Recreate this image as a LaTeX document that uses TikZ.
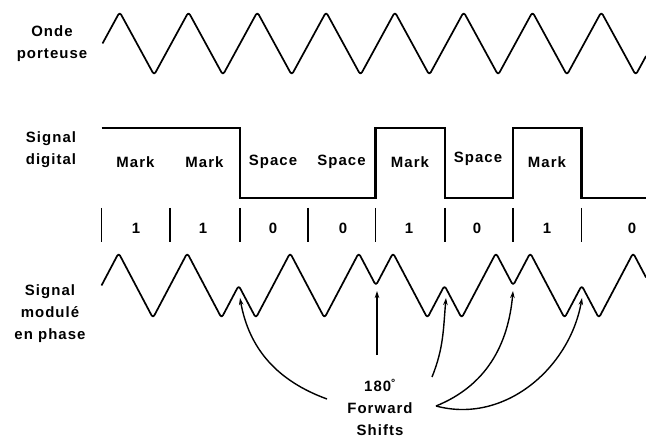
\documentclass[tikz,border=0pt]{standalone}
\usepackage{fontspec}
\newfontfamily\lblfont{Liberation Sans}[LetterSpace=7]
\usetikzlibrary{arrows.meta}
\begin{document}
\begin{tikzpicture}[x=1bp,y=-1bp,
  lbl/.style={font=\lblfont\bfseries\fontsize{15}{22}\selectfont, align=center, inner sep=0pt},
  wave/.style={line width=1.7bp, rounded corners=3bp, line join=round},
  digit/.style={line width=2.4bp, line join=miter},
  tick/.style={line width=1.2bp},
  shiftarrow/.style={line width=1.4bp, -{Stealth[length=7bp,width=4.5bp]}}]
\useasboundingbox (0,0) rectangle (646,437);
% labels at the left
\node[lbl] (onde) at (52,44) {Onde\\porteuse};
\node[lbl] (digl) at (51,150) {Signal\\digital};
\node[lbl] (modl) at (50,314) {Signal\\modulé\\en phase};
% carrier
\draw[wave] (102.5,43.5) -- (119.7,12) -- (154.1,75) -- (188.5,12) -- (222.9,75)
  -- (257.3,12) -- (291.7,75) -- (326.1,12) -- (360.5,75) -- (394.9,12) -- (429.3,75)
  -- (463.7,12) -- (498.1,75) -- (532.5,12) -- (566.9,75) -- (601.3,12) -- (635.7,75)
  -- (646,56.1);
% digital signal
\draw[digit] (101.5,128) -- (240,128) -- (240,198) -- (375.5,198) -- (375.5,128)
  -- (445,128) -- (445,198) -- (513,198) -- (513,128) -- (581.5,128) -- (581.5,198)
  -- (646,198);
\node[lbl] (m1) at (135.5,162) {Mark};
\node[lbl] (m2) at (204.5,162) {Mark};
\node[lbl] (sp1) at (273,162) {Space};
\node[lbl] (sp2) at (341.5,162) {Space};
\node[lbl] (m3) at (410,162) {Mark};
\node[lbl] (sp3) at (478,159) {Space};
\node[lbl] (m4) at (547,162) {Mark};
% bit ticks
\foreach \x in {101.5,170,240,375.5,445,513,581.5}
  \draw[tick] (\x,208) -- (\x,242);
\draw[line width=2bp] (307.5,208) -- (307.5,242);
\node[lbl] (b1) at (136,228) {1};
\node[lbl] (b2) at (203,228) {1};
\node[lbl] (b3) at (273,228) {0};
\node[lbl] (b4) at (343,228) {0};
\node[lbl] (b5) at (409,228) {1};
\node[lbl] (b6) at (477,228) {0};
\node[lbl] (b7) at (547,228) {1};
\node[lbl] (b8) at (632,228) {0};
% modulated signal
\draw[wave] (101.5,285.5) -- (118.65,253) -- (152.95,318) -- (187.25,253) -- (221.55,318)
  -- (238.7,285.5) -- (255.85,318) -- (290.15,253) -- (324.45,318) -- (358.75,253)
  -- (375.9,285.5) -- (393.05,253) -- (427.35,318) -- (444.5,285.5) -- (461.65,318)
  -- (495.95,253) -- (513.1,285.5) -- (530.25,253) -- (564.55,318) -- (581.7,285.5)
  -- (598.85,318) -- (633.15,253) -- (646,277.4);
% shift points
\coordinate (s1) at (240,298);
\coordinate (s2) at (377,291);
\coordinate (s3) at (446,298);
\coordinate (s4) at (513,291);
\coordinate (s5) at (582,298);
% caption
\node[lbl] (cap) at (380,407) {180\textsuperscript{°}\\Forward\\Shifts};
\coordinate (a0) at (377,355);
\coordinate (a1) at (327,399);
\coordinate (a3) at (432,377);
\coordinate (a45) at (436,406);
% arrows
\draw[shiftarrow] (a0) -- (s2);
\draw[shiftarrow] (a1) to[out=160,in=-80] (s1);
\draw[shiftarrow] (a3) to[out=68,in=-95] (s3);
\draw[shiftarrow] (a45) to[out=22,in=-95] (s4);
\draw[shiftarrow] (a45) to[out=-15,in=-100] (s5);
\end{tikzpicture}
\end{document}
